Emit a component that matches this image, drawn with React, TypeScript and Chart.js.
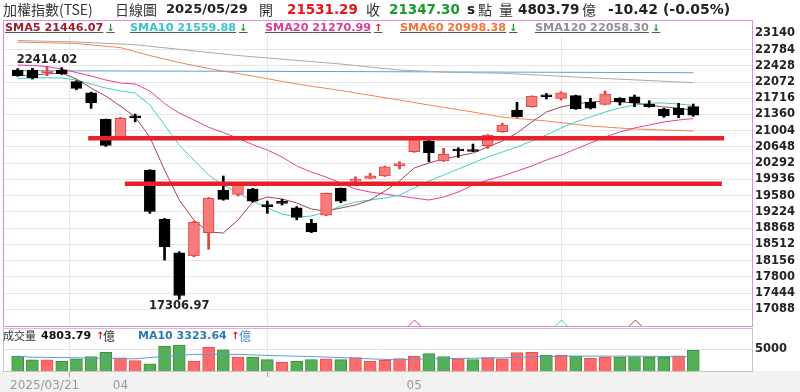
import React, { useEffect, useRef } from 'react';
import { Chart, registerables } from 'chart.js';

Chart.register(...registerables);

// ---------------- data ----------------
const X_TICK_IDX = [0, 7, 27];
const X_TICK_LABELS = ['2025/03/21', '04', '05'];

const Y_TICKS = [17088, 17444, 17800, 18156, 18512, 18868, 19224, 19580, 19936, 20292, 20648, 21004, 21360, 21716, 22072, 22428, 22784, 23140];
const Y_MIN = 16722;
const Y_MAX = 23432;

const OPEN = [22335, 22335, 22275, 22335, 22079, 21837, 21254, 20872, 21300, 20142, 19061, 18329, 18256, 18767, 19704, 19609, 19725, 19350, 19420, 19315, 18973, 19155, 19741, 19900, 19960, 20011, 20240, 20544, 20778, 20340, 20570, 20560, 20675, 20982, 21458, 21530, 21770, 21715, 21772, 21627, 21583, 21715, 21750, 21590, 21473, 21495, 21531.29];
const HIGH = [22365, 22372, 22414.02, 22386, 22100, 21850, 21260, 21298, 21370, 20150, 19080, 18350, 19020, 19540, 20011, 19870, 19740, 19462, 19500, 19340, 19061, 19640, 19750, 19995, 20070, 20230, 20325, 20850, 20800, 20618, 20630, 20712, 20920, 21166, 21627, 21770, 21820, 21859, 21785, 21714, 21875, 21730, 21787, 21662, 21495, 21605, 21590];
const LOW = [22200, 22138, 22210, 22237, 21903, 21495, 20660, 20850, 21201, 19193, 18168, 17306.97, 18240, 18403, 19480, 19572, 19440, 19193, 19375, 19050, 18770, 19140, 19425, 19880, 19950, 20000, 20165, 20530, 20324, 20330, 20420, 20545, 20618, 20970, 21300, 21520, 21700, 21677, 21470, 21480, 21570, 21568, 21530, 21520, 21298, 21290, 21320];
const CLOSE = [22210, 22166, 22290, 22247, 21934, 21618, 20684, 21276, 21289, 19232.35, 18459.95, 17391.76, 18995, 19528.77, 19500, 19850, 19462, 19340, 19410, 19105, 18783, 19631, 19462, 19910, 20017, 20215, 20260, 20837, 20522, 20493, 20560, 20548, 20910, 21129, 21311, 21765, 21750, 21837, 21485, 21500, 21809, 21640, 21618, 21530, 21326, 21357.72, 21347.30];
const VOLUME = [3453, 2584, 2584, 2246, 2826, 3381, 4347, 3067, 2415, 1690, 5796, 6038, 2246, 5482, 4902, 3212, 3212, 2657, 2004, 2246, 2657, 2826, 2657, 3140, 2246, 2487, 2900, 3453, 4033, 3381, 2826, 2657, 3140, 2826, 4275, 4347, 3695, 3695, 3453, 2970, 3212, 3212, 3381, 3212, 3212, 3550, 4803.79];

const SMA5 = [22210, 22225, 22247, 22269, 22138, 21940, 21765, 21544, 21305, 20864, 20142, 19484, 19046, 18783, 18761, 19046, 19441, 19551, 19507, 19419, 19287, 19243, 19309, 19375, 19484, 19682, 19902, 20186, 20296, 20384, 20449, 20515, 20647, 20778, 20954, 21195, 21414, 21524, 21590, 21634, 21655, 21634, 21611, 21567, 21524, 21502, 21446.07];
const SMA10 = [22150, 22160, 22165, 22160, 22116, 22028, 21940, 21875, 21831, 21568, 21129, 20690, 20361, 20032, 19813, 19638, 19462, 19309, 19177, 19112, 19134, 19221, 19353, 19441, 19484, 19528, 19594, 19747, 19901, 20032, 20164, 20296, 20427, 20537, 20647, 20778, 20910, 21064, 21195, 21305, 21414, 21502, 21568, 21611, 21611, 21590, 21559.88];
const SMA20 = [22445, 22434, 22412, 22357, 22280, 22204, 22116, 22050, 22028, 21875, 21600, 21392, 21240, 21080, 20965, 20840, 20700, 20581, 20427, 20230, 20098, 19989, 19857, 19726, 19660, 19616, 19572, 19528, 19484, 19550, 19660, 19813, 19923, 20011, 20120, 20230, 20361, 20471, 20603, 20734, 20866, 20976, 21064, 21129, 21195, 21239, 21270.99];
const SMA60_IDX = [0, 4, 7, 9, 11, 13, 16, 19, 22, 26, 28, 31, 33, 36, 39, 42, 46];
const SMA60 = [22949, 22916, 22826, 22653, 22500, 22368, 22204, 22028, 21886, 21677, 21568, 21414, 21302, 21217, 21107, 21042, 20998.38];
const SMA120_IDX = [0, 4, 8, 15, 22, 26, 29, 33, 40, 46];
const SMA120 = [22982, 22950, 22890, 22653, 22467, 22335, 22290, 22263, 22149, 22058.30];
const LONG_MA_IDX = [0, 23, 46];
const LONG_MA = [22320, 22300, 22276];

const VOL_MA10_IDX = [0, 1, 4, 8, 9, 10, 12, 15, 17, 21, 24, 26, 28, 33, 37, 42, 46];
const VOL_MA10 = [3450, 3212, 3067, 2826, 3140, 3381, 3864, 3864, 3622, 3260, 2826, 2584, 2826, 3067, 3453, 3453, 3323.64];

const SUPPORT_LEVEL = [20837, 19842];
const SUPPORT_START = [4.8, 7.3];
const SUPPORT_END = [48.1, 47.95];

const SIGNAL_IDX = [27, 37, 42];
const SIGNAL_SERIES = [2, 1, 0];

const LEGEND_NAMES = ['SMA5', 'SMA10', 'SMA20', 'SMA60', 'SMA120'];
const LEGEND_VALUES = ['21446.07', '21559.88', '21270.99', '20998.38', '22058.30'];
const LEGEND_UP = [false, false, true, false, false];

// ---------------- styles ----------------
const FONT = '"DejaVu Sans", Verdana, sans-serif';
const CJK = '"Noto Sans CJK TC", "DejaVu Sans", sans-serif';
const MA_LINE_COLORS = ['#a3434f', '#3fcfc6', '#e0409e', '#f08650', '#a9a9a9'];
const MA_TEXT_COLORS = ['#9b1d30', '#33c6c6', '#de3a94', '#f07434', '#8e8e8e'];
const UP_RED = '#e8141c';
const DOWN_GREEN = '#1a9a2a';
const CANDLE_RED_FILL = '#f77b7b';
const CANDLE_RED_LINE = '#e2443f';
const GRID = '#e6e6e6';

const pts = (idx: number[], vals: number[]) => idx.map((x, k) => ({ x, y: vals[k] }));
const seq = (vals: number[]) => vals.map((y, x) => ({ x, y }));
const zeroPad = (s: any) => { s.paddingTop = 0; s.paddingBottom = 0; s.paddingLeft = 0; s.paddingRight = 0; };

function MainChart() {
  const ref = useRef<HTMLCanvasElement>(null);
  useEffect(() => {
    const isUp = (i: number) => CLOSE[i] >= OPEN[i];
    const overlay = {
      id: 'overlay',
      afterDatasetsDraw(chart: any) {
        const { ctx, scales, chartArea } = chart;
        const x = scales.x, y = scales.y;
        let hi = 0, lo = 0;
        HIGH.forEach((v, i) => { if (v > HIGH[hi]) hi = i; });
        LOW.forEach((v, i) => { if (v < LOW[lo]) lo = i; });
        ctx.save();
        ctx.font = `bold 11.5px ${FONT}`;
        ctx.fillStyle = '#222';
        ctx.textAlign = 'center';
        ctx.textBaseline = 'bottom';
        ctx.fillText(HIGH[hi].toFixed(2), x.getPixelForValue(hi), y.getPixelForValue(HIGH[hi]) - 1);
        ctx.textBaseline = 'top';
        ctx.fillText(LOW[lo].toFixed(2), x.getPixelForValue(lo), y.getPixelForValue(LOW[lo]) + 1);
        ctx.lineWidth = 1;
        SIGNAL_IDX.forEach((idx, k) => {
          const px = Math.round(x.getPixelForValue(idx)) + 0.5;
          const b = chartArea.bottom;
          ctx.strokeStyle = MA_LINE_COLORS[SIGNAL_SERIES[k]];
          ctx.beginPath();
          ctx.moveTo(px - 6, b);
          ctx.lineTo(px, b - 6);
          ctx.lineTo(px + 6, b);
          ctx.stroke();
        });
        ctx.restore();
      },
    };
    const lineDs = (label: string, data: any[], color: string, order: number) => ({
      type: 'line', label, data, borderColor: color, borderWidth: 1, pointRadius: 0, tension: 0, order,
    });
    const datasets: any[] = [];
    SUPPORT_LEVEL.forEach((lv, k) => {
      datasets.push({
        type: 'line', label: 'support' + k,
        data: [{ x: SUPPORT_START[k], y: lv }, { x: SUPPORT_END[k], y: lv }],
        borderColor: '#e8202a', borderWidth: 4.5, pointRadius: 0, borderCapStyle: 'butt', order: 0,
      });
    });
    datasets.push({
      type: 'bar', label: 'body',
      data: OPEN.map((o, i) => ({ x: i, y: [o, CLOSE[i]] })),
      backgroundColor: (c: any) => (isUp(c.dataIndex) ? CANDLE_RED_FILL : '#000'),
      borderColor: (c: any) => (isUp(c.dataIndex) ? CANDLE_RED_LINE : '#000'),
      borderWidth: 1, borderSkipped: false, barThickness: 11, minBarLength: 2, grouped: false, order: 1,
    });
    datasets.push({
      type: 'bar', label: 'wick',
      data: LOW.map((l, i) => ({ x: i, y: [l, HIGH[i]] })),
      backgroundColor: (c: any) => (isUp(c.dataIndex) ? CANDLE_RED_LINE : '#000'),
      borderWidth: 0, barThickness: 2, grouped: false, order: 2,
    });
    datasets.push(lineDs('SMA5', seq(SMA5), MA_LINE_COLORS[0], 3));
    datasets.push(lineDs('SMA10', seq(SMA10), MA_LINE_COLORS[1], 4));
    datasets.push(lineDs('SMA20', seq(SMA20), MA_LINE_COLORS[2], 5));
    datasets.push(lineDs('SMA60', pts(SMA60_IDX, SMA60), MA_LINE_COLORS[3], 6));
    datasets.push(lineDs('SMA120', pts(SMA120_IDX, SMA120), MA_LINE_COLORS[4], 7));
    datasets.push(lineDs('LONG', pts(LONG_MA_IDX, LONG_MA), '#5aa0d8', 8));

    const chart = new Chart(ref.current as any, {
      type: 'bar',
      data: { datasets },
      options: {
        responsive: false,
        animation: false,
        devicePixelRatio: 1,
        layout: { padding: { left: 3, right: 0, top: 20, bottom: 4 } },
        plugins: { legend: { display: false }, tooltip: { enabled: false } },
        scales: {
          x: {
            type: 'linear', min: -1, max: 50, offset: false,
            afterBuildTicks: (s: any) => { s.ticks = X_TICK_IDX.map((v) => ({ value: v })); },
            afterFit: (s: any) => { s.height = 0; zeroPad(s); },
            ticks: { display: false, autoSkip: false },
            grid: { color: GRID, drawTicks: false },
            border: { display: false },
          },
          y: {
            position: 'right', min: Y_MIN, max: Y_MAX,
            afterBuildTicks: (s: any) => { s.ticks = Y_TICKS.map((v) => ({ value: v })); },
            afterFit: (s: any) => { s.width = 48; zeroPad(s); },
            ticks: {
              autoSkip: false, padding: 3, color: '#222',
              font: { family: FONT, size: 11.5, weight: 'bold' },
              callback: (v: any) => String(v),
            },
            grid: {
              drawTicks: false,
              color: (c: any) => (c.tick && c.tick.value === Y_TICKS[Y_TICKS.length - 1] ? 'rgba(0,0,0,0)' : GRID),
            },
            border: { display: false },
          },
        },
      } as any,
      plugins: [overlay],
    } as any);
    return () => chart.destroy();
  }, []);
  return <canvas ref={ref} width={800} height={330} style={{ position: 'absolute', left: 0, top: 0 }} />;
}

function VolumeChart() {
  const ref = useRef<HTMLCanvasElement>(null);
  useEffect(() => {
    const volUp = (i: number) => i > 0 && CLOSE[i] > CLOSE[i - 1];
    const END = 50;
    const xLabels = {
      id: 'xLabels',
      afterDraw(chart: any) {
        const { ctx, scales, chartArea } = chart;
        ctx.save();
        ctx.font = `12px ${FONT}`;
        ctx.fillStyle = '#999';
        ctx.textBaseline = 'top';
        X_TICK_IDX.forEach((v, k) => {
          const px = scales.x.getPixelForValue(v);
          const w = ctx.measureText(X_TICK_LABELS[k]).width;
          const left = Math.max(chartArea.left + 7, px - w / 2);
          ctx.textAlign = 'left';
          ctx.fillText(X_TICK_LABELS[k], left, chartArea.bottom + 9);
        });
        ctx.restore();
      },
    };
    const chart = new Chart(ref.current as any, {
      type: 'bar',
      data: {
        datasets: [
          {
            type: 'line', label: 'MA10', data: pts(VOL_MA10_IDX, VOL_MA10),
            borderColor: '#5a9bd4', borderWidth: 1, pointRadius: 0, tension: 0, order: 0,
          },
          {
            type: 'bar', label: 'vol', data: VOLUME.map((v, i) => ({ x: i, y: v })),
            backgroundColor: (c: any) => (volUp(c.dataIndex) ? '#ff6b6b' : '#55b055'),
            borderColor: (c: any) => (volUp(c.dataIndex) ? '#e65050' : '#3f8f3f'),
            borderWidth: 1, barThickness: 12, grouped: false, order: 1,
          },
        ],
      },
      options: {
        responsive: false,
        animation: false,
        devicePixelRatio: 1,
        layout: { padding: { left: 3, right: 0, top: 2, bottom: 0 } },
        plugins: { legend: { display: false }, tooltip: { enabled: false } },
        scales: {
          x: {
            type: 'linear', min: -1, max: 50, offset: false,
            afterBuildTicks: (s: any) => { s.ticks = [...X_TICK_IDX, END].map((v) => ({ value: v })); },
            afterFit: (s: any) => { s.height = 21; zeroPad(s); },
            ticks: { autoSkip: false, display: false },
            grid: {
              tickLength: 6,
              color: (c: any) => (c.tick && c.tick.value === END ? 'rgba(0,0,0,0)' : GRID),
              tickColor: (c: any) => (c.tick && c.tick.value === END ? 'rgba(0,0,0,0)' : '#aaa'),
            },
            border: { display: false },
          },
          y: {
            position: 'right', min: 0, max: 10000,
            afterBuildTicks: (s: any) => { s.ticks = [{ value: 5000 }]; },
            afterFit: (s: any) => { s.width = 48; zeroPad(s); },
            ticks: {
              autoSkip: false, padding: 3, color: '#222',
              font: { family: FONT, size: 11.5, weight: 'bold' },
              callback: (v: any) => String(v),
            },
            grid: { drawTicks: false, color: '#e2e2e2' },
            border: { display: false },
          },
        },
      } as any,
      plugins: [xLabels],
    } as any);
    return () => chart.destroy();
  }, []);
  return <canvas ref={ref} width={800} height={66} style={{ position: 'absolute', left: 0, top: 326 }} />;
}

const abs = (left: number, top: number, extra: any = {}) => ({
  position: 'absolute' as const, left, top, whiteSpace: 'nowrap' as const, ...extra,
});

export default function App() {
  const hdrCjk = { fontFamily: CJK, fontSize: 14, lineHeight: '18px', color: '#333' };
  const hdrNum = { fontFamily: FONT, fontSize: 13.5, fontWeight: 'bold', lineHeight: '18px', color: '#222' };
  const legendLefts = [5, 130, 265, 400, 535];
  const volCjk = { fontFamily: CJK, fontSize: 11, lineHeight: '13px', color: '#333' };
  return (
    <div style={{ position: 'absolute', left: 0, top: 0, width: 800, height: 392, background: '#fff', overflow: 'hidden' }}>
      <div style={{ position: 'absolute', left: 0, top: 371, width: 800, height: 21, background: '#f2f2f2' }} />
      <MainChart />
      <VolumeChart />
      {/* panel borders */}
      <div style={{ position: 'absolute', left: 3, top: 20, width: 750, height: 307, boxSizing: 'border-box', border: '1px solid #dd8fdd', pointerEvents: 'none' }} />
      <div style={{ position: 'absolute', left: 3, top: 328, width: 750, height: 44, boxSizing: 'border-box', border: '1px solid #c6c6c6', pointerEvents: 'none' }} />
      {/* header */}
      <span style={abs(3, 0, hdrCjk)}>加權指數(TSE)</span>
      <span style={abs(115, 0, hdrCjk)}>日線圖</span>
      <span style={abs(166, 0, { ...hdrNum, fontSize: 13 })}>2025/05/29</span>
      <span style={abs(259, 0, hdrCjk)}>開</span>
      <span style={abs(287, 0, { ...hdrNum, color: UP_RED })}>21531.29</span>
      <span style={abs(366, 0, hdrCjk)}>收</span>
      <span style={abs(389, 0, { ...hdrNum, color: DOWN_GREEN })}>21347.30</span>
      <span style={abs(467, 0, hdrNum)}>s</span>
      <span style={abs(478, 0, hdrCjk)}>點</span>
      <span style={abs(499, 0, hdrCjk)}>量</span>
      <span style={abs(518, 0, hdrNum)}>4803.79</span>
      <span style={abs(582, 0, hdrCjk)}>億</span>
      <span style={abs(608, 0, { ...hdrNum, fontSize: 14 })}>-10.42 (-0.05%)</span>
      {/* MA legend row */}
      <div style={{ position: 'absolute', left: 4, top: 21, width: 747, height: 14, background: '#fff' }} />
      {LEGEND_NAMES.map((n, k) => (
        <span key={n} style={abs(legendLefts[k], 21, {
          fontFamily: FONT, fontSize: 11.2, fontWeight: 'bold', lineHeight: '14px',
          color: MA_TEXT_COLORS[k], textDecoration: 'underline', textDecorationColor: '#555',
        })}>
          {n} {LEGEND_VALUES[k]}<span style={{ color: LEGEND_UP[k] ? UP_RED : DOWN_GREEN, fontSize: 10, marginLeft: 3 }}>{LEGEND_UP[k] ? '↑' : '↓'}</span>
        </span>
      ))}
      {/* volume legend row */}
      <span style={abs(3, 329, volCjk)}>成交量</span>
      <span style={abs(41, 329, { fontFamily: FONT, fontSize: 11, fontWeight: 'bold', lineHeight: '13px', color: '#111' })}>4803.79</span>
      <span style={abs(96, 329, { fontFamily: FONT, fontSize: 10, fontWeight: 'bold', lineHeight: '13px', color: UP_RED })}>↑</span>
      <span style={abs(103, 329, { ...volCjk, fontSize: 12 })}>億</span>
      <span style={abs(138, 329, { fontFamily: FONT, fontSize: 11, fontWeight: 'bold', lineHeight: '13px', color: '#2a78b8' })}>MA10 3323.64</span>
      <span style={abs(231, 329, { fontFamily: FONT, fontSize: 10, fontWeight: 'bold', lineHeight: '13px', color: UP_RED })}>↑</span>
      <span style={abs(239, 329, { ...volCjk, fontSize: 12, color: '#4a90c8' })}>億</span>
    </div>
  );
}
